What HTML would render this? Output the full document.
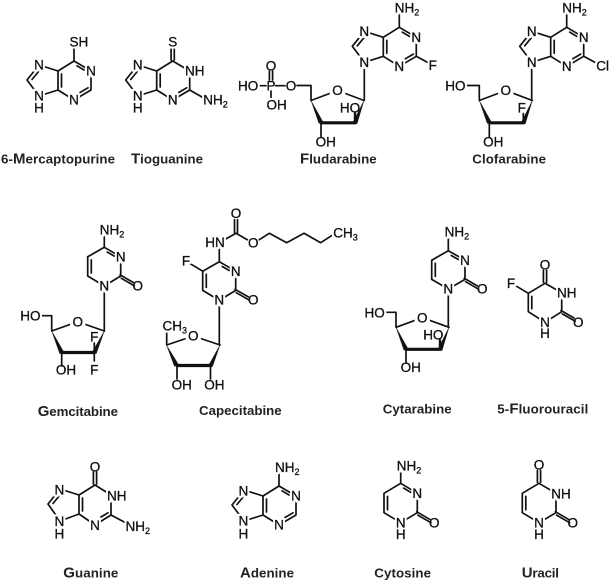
<!DOCTYPE html>
<html><head><meta charset="utf-8"><style>
html,body{margin:0;padding:0;background:#fff;width:611px;height:582px;overflow:hidden}
svg{display:block}
.b{fill:none;stroke:#111;stroke-width:1.7;stroke-linejoin:round;stroke-linecap:round}
.w{fill:#111;stroke:#111;stroke-width:.4;stroke-linejoin:round}
.t{stroke:#111;stroke-width:3.2;fill:none;stroke-linecap:butt}
text{font-family:"Liberation Sans",Arial,sans-serif}
.a,.s,.n{font-size:13.5px;fill:#111;stroke:#111;stroke-width:.3}
.a{text-anchor:middle}
.a,.s{filter:url(#h)}
.o{filter:url(#k)}
.n{text-anchor:middle}
.m{font-size:13.3px;font-weight:bold;fill:#222}
.u{font-size:9px}
.L{font-size:15px}
</style></head><body>
<svg width="611" height="582" viewBox="0 0 611 582" xmlns="http://www.w3.org/2000/svg">
<defs>
<filter id="h" x="-60%" y="-60%" width="220%" height="220%" color-interpolation-filters="sRGB">
<feMorphology in="SourceAlpha" operator="dilate" radius="1.8" result="d"/>
<feFlood flood-color="#fff"/><feComposite in2="d" operator="in" result="w"/>
<feMerge><feMergeNode in="w"/><feMergeNode in="SourceGraphic"/></feMerge>
</filter>
<filter id="k" x="-80%" y="-80%" width="260%" height="260%" color-interpolation-filters="sRGB">
<feMorphology in="SourceAlpha" operator="dilate" radius="3.2" result="d"/>
<feFlood flood-color="#fff"/><feComposite in2="d" operator="in" result="w"/>
<feMerge><feMergeNode in="w"/><feMergeNode in="SourceGraphic"/></feMerge>
</filter>
</defs>

<!-- 6-Mercaptopurine -->
<g transform="translate(74,61)">
<path class="b" d="M0 -14V0L-16 10V29L0 39L17 29V10L0 0M-12.5 13V26M3 4.8L10 9M6 31.5L14 26.8M-16 10L-35 4L-47 19L-35 35L-16 29M-35 10L-42 18.5"/>
<text class="a" x="17" y="14.7">N</text><text class="a" x="0" y="43.7">N</text><text class="a" x="-35" y="8.7">N</text><text class="a" x="-35" y="39.7">N</text><text class="n" x="-35" y="51.7">H</text>
<text class="s" x="-4.5" y="-14.3">SH</text>
</g>

<!-- Tioguanine -->
<g transform="translate(172.7,61)">
<path class="b" d="M-1.6 -13V-1M1.6 -13V-1M0 0L-16 10V29L0 39L17 29V10L0 0M-12.5 13V26M17 29L31 37M6 31.5L14 26.8M-16 10L-35 4L-47 19L-35 35L-16 29M-35 10L-42 18.5"/>
<text class="a" x="0" y="-14.3">S</text><text class="s" x="12.3" y="14.7">NH</text><text class="a" x="0" y="43.7">N</text><text class="a" x="-35" y="8.7">N</text><text class="a" x="-35" y="39.7">N</text><text class="n" x="-35" y="51.7">H</text>
<text class="s" x="30.5" y="43.7">NH<tspan class="u" dy="3">2</tspan></text>
</g>

<!-- Fludarabine -->
<g transform="translate(399.3,27.3)">
<path class="b" d="M0 -14V0L-16 10V29L0 39L17 29V10L0 0M-12.5 13V26M3 4.8L10 9M6 31.5L14 26.8M-16 10L-35 4L-47 19L-35 35L-16 29M-35 10L-42 18.5M17 29L28 35M-35 35V73"/>
<text class="a" x="17" y="14.7">N</text><text class="a" x="0" y="43.7">N</text><text class="a" x="-35" y="8.7">N</text><text class="a" x="-35" y="39.7">N</text>
<text class="s" x="-4.5" y="-15">NH<tspan class="u" dy="3">2</tspan></text>
<text class="a" x="33.5" y="42.5">F</text>
</g>
<g transform="translate(364,100.5)">
<path class="b" d="M-53 -15V0L-26.5 -10L0 0M-53 -15H-67"/>
<polygon class="w" points="-53,0 -45,23 -41,21.5"/>
<path class="t" d="M-44 22.3H-8"/>
<polygon class="w" points="0,0 -7,23.4 -11,21.8"/>
<path class="b" d="M-43 23V36"/>
<path class="b" d="M-9 22V13" style="stroke-width:2.4"/>
<text class="a o" x="-26.5" y="-5.4">O</text>
<text class="n" x="-38.3" y="45.8">OH</text>
<text class="n" x="-14" y="11.8">HO</text>
</g>
<path class="b" d="M258 85.7H266M275.5 85.7H285M271 91V99M269.4 71V80M272.6 71V80"/>
<text class="n" x="291" y="90.3">O</text>
<text class="n" x="271" y="90.3">P</text>
<text class="n" x="271" y="70.4">O</text>
<text class="s" x="238" y="90.3">HO</text>
<text class="s" x="266.5" y="109.7">OH</text>

<!-- Clofarabine -->
<g transform="translate(566.7,27.3)">
<path class="b" d="M0 -14V0L-16 10V29L0 39L17 29V10L0 0M-12.5 13V26M3 4.8L10 9M6 31.5L14 26.8M-16 10L-35 4L-47 19L-35 35L-16 29M-35 10L-42 18.5M17 29L29 35.5M-35 35V73"/>
<text class="a" x="17" y="14.7">N</text><text class="a" x="0" y="43.7">N</text><text class="a" x="-35" y="8.7">N</text><text class="a" x="-35" y="39.7">N</text>
<text class="s" x="-4.5" y="-15">NH<tspan class="u" dy="3">2</tspan></text>
<text class="s" x="29.5" y="43">Cl</text>
</g>
<g transform="translate(532.3,100.5)">
<path class="b" d="M-53 -15V0L-26.5 -10L0 0M-53 -15H-66"/>
<polygon class="w" points="-53,0 -45,23 -41,21.5"/>
<path class="t" d="M-44 22.3H-8"/>
<polygon class="w" points="0,0 -7,23.4 -11,21.8"/>
<path class="b" d="M-43 23V36M-9 22V13" />
<text class="a o" x="-26.5" y="-5.4">O</text>
<text class="n" x="-39" y="45.8">OH</text>
<text class="n" x="-10.5" y="11.8">F</text>
<text class="s" x="-87" y="-10.2">HO</text>
</g>

<!-- Gemcitabine -->
<g transform="translate(104.3,247.3)">
<path class="b" d="M0 -13V0L16.4 9.5V28.7L0 38.7L-16.6 28.7V9.5L0 0M3 4.8L10 8.8M-13 12.5V25.7M15.8 27.6L29 35.2M17 31L30 38.5M0 38.7V84"/>
<text class="a" x="16.4" y="14.2">N</text><text class="a" x="0" y="43.4">N</text><text class="n" x="33.4" y="43.4">O</text>
<text class="s" x="-4.5" y="-12.6">NH<tspan class="u" dy="3">2</tspan></text>
</g>
<g transform="translate(104.3,331)">
<path class="b" d="M-52.6 -15.3V0L-26.6 -9.3L0 0M-52.6 -15.3H-63"/>
<polygon class="w" points="-52.6,0 -44.5,22.8 -40.5,21"/>
<path class="t" d="M-43.5 21.5H-9"/>
<polygon class="w" points="0,0 -8,22.6 -12,21"/>
<path class="b" d="M-42.6 22V35M-10 22V30M-10 21V12"/>
<text class="a o" x="-26.6" y="-4.6">O</text>
<text class="n" x="-38.3" y="43.7">OH</text>
<text class="n" x="-10" y="10.4">F</text>
<text class="s" x="-10" y="43.7" style="text-anchor:middle">F</text>
<text class="s" x="-84" y="-10.6">HO</text>
</g>

<!-- Capecitabine -->
<g transform="translate(219.3,261.7)">
<path class="b" d="M0 -14V0L16.4 9.5V28.7L0 38.7L-16.6 28.7V9.5L0 0M3 4.8L10 8.8M-13 12.5V25.7M15.8 27.6L29 35.2M17 31L30 38.5M0 38.7V83M-16.6 9.5L-29 2M6 -22.5L16.7 -28.4L28 -22M40 -22L50 -28.4L67.4 -19L84.7 -28.4L101.4 -19L113 -26.5M15.2 -28.4V-42M18.2 -28.4V-42"/>
<text class="a" x="16.4" y="14.2">N</text><text class="a" x="0" y="43">N</text><text class="n" x="34" y="43">O</text>
<text class="a" x="-33.3" y="4">F</text>
<text class="n" x="16.7" y="-43.7">O</text>
<text class="n" x="34" y="-14.3">O</text>
<text class="s" x="-14" y="-14.7">HN</text>
<text class="s" x="114" y="-24">CH<tspan class="u" dy="3">3</tspan></text>
</g>
<g transform="translate(220,345)">
<path class="b" d="M-53.3 0L-26.7 -9L0 0M-53.3 0V-13"/>
<polygon class="w" points="-53.3,.5 -45.5,21.5 -41.5,19.5"/>
<path class="t" d="M-44 20.5H-8"/>
<polygon class="w" points="0,0 -7.5,21.5 -11,19.8"/>
<path class="b" d="M-43 21V34M-9.5 21V34"/>
<text class="a o" x="-26.7" y="-4.3">O</text>
<text class="n" x="-38.3" y="44.7">OH</text>
<text class="n" x="-5.7" y="44.7">OH</text>
<text class="s" x="-57.5" y="-14.5">CH<tspan class="u" dy="3">3</tspan></text>
</g>

<!-- Cytarabine -->
<g transform="translate(448.3,250.7)">
<path class="b" d="M0 -13V0L16.7 9.5V28.7L0 38.3L-16.6 28.7V9.5L0 0M3 4.8L10 8.8M-13 12.5V25.7M16 27.6L29 35.2M17.3 31L30.3 38.5M0 38.3V76"/>
<text class="a" x="16.7" y="14.2">N</text><text class="a" x="0" y="43">N</text><text class="n" x="34" y="43">O</text>
<text class="s" x="-3.7" y="-14.3">NH<tspan class="u" dy="3">2</tspan></text>
</g>
<g transform="translate(449,327.3)">
<path class="b" d="M-53 -15V0L-26.7 -9.6L0 0M-53 -15H-64"/>
<polygon class="w" points="-53,0 -45,23 -41,21.5"/>
<path class="t" d="M-44 22H-8"/>
<polygon class="w" points="0,0 -7,23.4 -11,21.8"/>
<path class="b" d="M-43 23V35"/>
<path class="b" d="M-9 22V13" style="stroke-width:2.4"/>
<text class="a o" x="-26.7" y="-5">O</text>
<text class="n" x="-38.3" y="44.7">OH</text>
<text class="n" x="-15.7" y="12.4">HO</text>
<text class="s" x="-84.5" y="-10">HO</text>
</g>

<!-- 5-Fluorouracil -->
<g transform="translate(545,283.3)">
<path class="b" d="M-1.6 -13V-1M1.6 -13V-1M0 0L16.7 9.5V28.4L0 39L-16.7 28.4V10L0 0M-13.2 13V25.5M16 27.2L29 34.7M17.3 30.6L30.3 38M-16.7 10L-30 2"/>
<text class="n" x="0" y="-13.7">O</text>
<text class="s" x="12" y="14.2">NH</text><text class="a" x="0" y="43.7">N</text><text class="n" x="0" y="54.7">H</text><text class="n" x="33.3" y="43.7">O</text>
<text class="a" x="-34" y="4.7">F</text>
</g>

<!-- Guanine -->
<g transform="translate(95,485)">
<path class="b" d="M-1.6 -13V-1M1.6 -13V-1M0 0L-16 10V29L0 40L16 30V10L0 0M-12.5 13V26M16 30L31 38M6 32L13 27.8M-16 10L-35 4L-47 19L-35 36L-16 29M-35 10L-42 18.5"/>
<text class="n" x="0" y="-13.7">O</text><text class="s" x="12" y="15.4">NH</text><text class="a" x="0" y="45.2">N</text><text class="a" x="-35.7" y="9.4">N</text><text class="a" x="-35.7" y="41">N</text><text class="n" x="-35.7" y="53.4">H</text>
<text class="s" x="30.5" y="46">NH<tspan class="u" dy="3">2</tspan></text>
</g>

<!-- Adenine -->
<g transform="translate(279,486)">
<path class="b" d="M0 -14V0L-16 10V29L0 39L17 29V10L0 0M-12.5 13V26M3 4.8L10 9M6 31.5L14 26.8M-16 10L-35 4L-47 19L-35 35L-16 29M-35 10L-42 18.5"/>
<text class="a" x="17" y="14.7">N</text><text class="a" x="0" y="43.7">N</text><text class="a" x="-35.7" y="9.4">N</text><text class="a" x="-35.7" y="39.7">N</text><text class="n" x="-35.7" y="52.4">H</text>
<text class="s" x="-4" y="-14">NH<tspan class="u" dy="3">2</tspan></text>
</g>

<!-- Cytosine -->
<g transform="translate(400.7,483.3)">
<path class="b" d="M0 -13V0L16.6 10V29.4L0 39.4L-16.7 29.4V10L0 0M3 4.8L10 9M-13.2 13V26.5M16 28.4L29 36M17.2 31.8L30.2 39.4"/>
<text class="a" x="16.6" y="14.7">N</text><text class="a" x="0" y="44">N</text><text class="n" x="0" y="55.6">H</text><text class="n" x="33.6" y="44">O</text>
<text class="s" x="-4" y="-13">NH<tspan class="u" dy="3">2</tspan></text>
</g>

<!-- Uracil -->
<g transform="translate(539,483.3)">
<path class="b" d="M-1.6 -13V-1M1.6 -13V-1M0 0L17 10V29.4L0 39.4L-16.7 29.4V10L0 0M-13.2 13V26.5M16.4 28.4L29.4 36M17.6 31.8L30.6 39.4"/>
<text class="n" x="0" y="-13.6">O</text><text class="s" x="12.3" y="15">NH</text><text class="a" x="0" y="44">N</text><text class="n" x="0" y="55.6">H</text><text class="n" x="33.7" y="44">O</text>
</g>

<!-- Names -->
<text class="m" x="1" y="163.5" textLength="114">6-<tspan class="L">M</tspan>ercaptopurine</text>
<text class="m" x="131" y="163.5" textLength="72"><tspan class="L">T</tspan>ioguanine</text>
<text class="m" x="300" y="163.5" textLength="76.7"><tspan class="L">F</tspan>ludarabine</text>
<text class="m" x="472.3" y="163.5" textLength="73.7">Clofarabine</text>
<text class="m" x="37.7" y="416" textLength="80.3"><tspan class="L">G</tspan>emcitabine</text>
<text class="m" x="199" y="415" textLength="82.7">Capecitabine</text>
<text class="m" x="382.7" y="413.5" textLength="69">Cytarabine</text>
<text class="m" x="497.3" y="413.5" textLength="91">5-<tspan class="L">F</tspan>luorouracil</text>
<text class="m" x="63.3" y="577.5" textLength="55"><tspan class="L">G</tspan>uanine</text>
<text class="m" x="240" y="577.5" textLength="54"><tspan class="L">A</tspan>denine</text>
<text class="m" x="374.3" y="577.5" textLength="56.7">Cytosine</text>
<text class="m" x="521.7" y="577.5" textLength="37.3"><tspan class="L">U</tspan>racil</text>
</svg>
</body></html>
